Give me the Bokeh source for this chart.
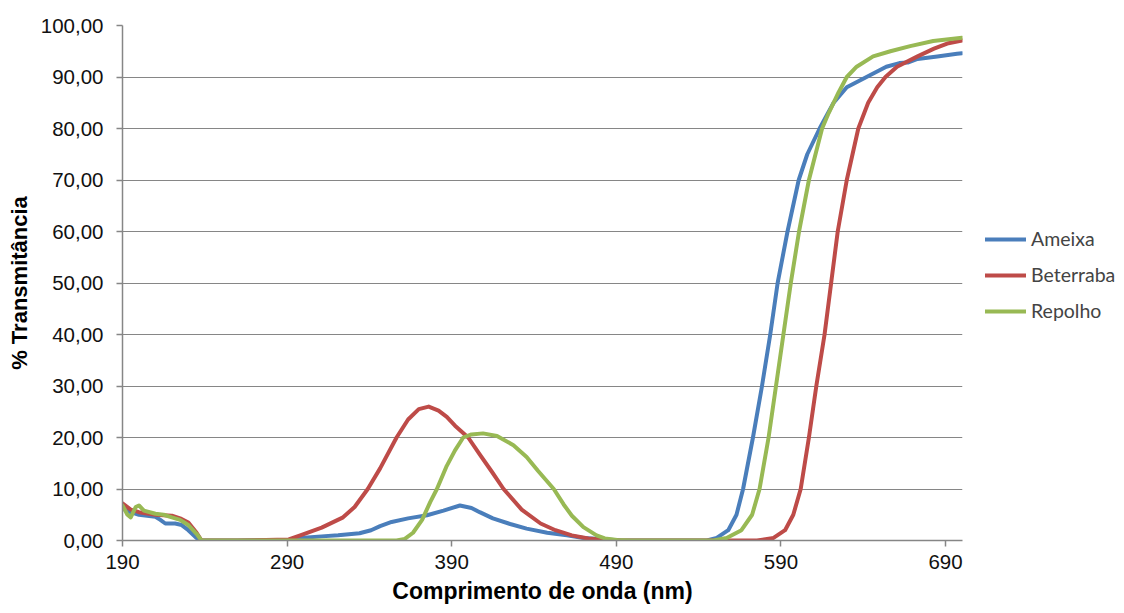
from bokeh.plotting import figure
from bokeh.models import Range1d, FixedTicker, Legend, LegendItem
from bokeh.embed import file_html
from bokeh.resources import INLINE

# Ameixa (blue)
ameixa_x = [190, 195, 200, 205, 210, 213, 216, 222, 226, 230, 235, 238, 260, 291, 298, 311, 321, 334,
            341, 346.5, 353.5, 363.5, 375, 385, 395, 402, 407, 415, 425.5, 435.5, 448, 460, 470, 480,
            493, 545, 551, 558, 563, 567, 573, 578.5, 583.5, 588, 594, 600.8, 606, 613.5, 622, 630,
            642, 654, 662, 667, 673, 685, 697, 700]
ameixa_y = [6.2, 5.5, 5.0, 4.8, 4.6, 4.0, 3.3, 3.3, 3.0, 2.0, 0.5, 0.0, 0.0, 0.1, 0.5, 0.8, 1.0, 1.4,
            2.0, 2.8, 3.6, 4.3, 4.9, 5.8, 6.8, 6.3, 5.5, 4.3, 3.2, 2.3, 1.5, 1.0, 0.5, 0.3,
            0.0, 0.0, 0.5, 2.0, 5.0, 10.0, 20.0, 30.0, 40.0, 50.0, 60.0, 70.0, 75.0, 80.0, 85.0, 88.0,
            90.0, 92.0, 92.7, 92.8, 93.5, 94.0, 94.5, 94.6]

# Beterraba (red)
beterraba_x = [190, 195, 200, 210, 220, 225, 230, 235, 238, 260, 291, 298, 311, 324, 331, 339, 346.5,
               356.5, 363.5, 370, 376, 382, 387, 392, 400, 407, 414.5, 421.5, 432.5, 444, 453, 463,
               473, 483, 493, 575.5, 585.5, 592.5, 597.5, 602, 607, 611.5, 616.5, 620.5, 624.5, 630,
               637, 643, 648.5, 653.5, 660.5, 673, 683, 691, 700]
beterraba_y = [7.2, 6.0, 5.5, 5.0, 4.8, 4.3, 3.5, 1.5, 0.0, 0.0, 0.2, 1.0, 2.5, 4.5, 6.5, 10.0, 14.0,
               20.0, 23.5, 25.5, 26.0, 25.2, 24.0, 22.3, 20.0, 16.7, 13.3, 10.0, 6.0, 3.3, 2.0, 1.0,
               0.4, 0.1, 0.0, 0.0, 0.5, 2.0, 5.0, 10.0, 20.0, 30.0, 40.0, 50.0, 60.0, 70.0,
               80.0, 85.0, 88.0, 90.0, 92.0, 94.0, 95.5, 96.5, 97.1]

# Repolho (green)
repolho_x = [190, 193, 195, 198, 200, 203, 210, 215, 220, 225, 230, 235, 238, 300, 356.5, 361.5, 366.5,
             372, 377, 381, 387, 392, 397, 402, 409, 417.5, 427.5, 435.5, 442.5, 452, 458, 463,
             470, 478, 483, 490.5, 498.5, 549, 557, 566, 572.5, 577, 582.5, 587, 591.5, 596, 601,
             607, 615, 619, 625, 630, 636, 646, 656.5, 668.5, 682.5, 700]
repolho_y = [6.8, 5.0, 4.5, 6.5, 6.8, 5.8, 5.2, 5.0, 4.5, 4.0, 3.0, 1.3, 0.0, 0.0, 0.0, 0.3, 1.5,
             4.0, 7.5, 10.0, 14.5, 17.5, 20.0, 20.6, 20.8, 20.3, 18.5, 16.2, 13.5, 10.0, 7.0, 4.8,
             2.6, 1.0, 0.4, 0.1, 0.0, 0.0, 0.5, 2.0, 5.0, 10.0, 20.0, 30.0, 40.0, 50.0, 60.0,
             70.0, 80.0, 83.0, 87.0, 90.0, 92.0, 94.0, 95.0, 96.0, 97.0, 97.6]

x_ticks = [190, 290, 390, 490, 590, 690]
y_ticks = [0, 10, 20, 30, 40, 50, 60, 70, 80, 90, 100]
y_tick_labels = {t: f"{t},00" for t in y_ticks}

names = ["Ameixa", "Beterraba", "Repolho"]
colors = ["#4a7ebb", "#be4b48", "#98b954"]

p = figure(output_backend="svg", toolbar_location=None,
           frame_width=840, frame_height=515,
           x_range=Range1d(190, 700.3), y_range=Range1d(0, 100),
           min_border_left=122, min_border_top=25, min_border_right=150, min_border_bottom=60)
p.outline_line_color = None
p.background_fill_color = "white"

renderers = []
for xs, ys, c in zip([ameixa_x, beterraba_x, repolho_x], [ameixa_y, beterraba_y, repolho_y], colors):
    r = p.line(xs, ys, line_color=c, line_width=4, line_join="round", line_cap="round")
    renderers.append(r)

font = "Liberation Sans"
p.xaxis.ticker = FixedTicker(ticks=x_ticks)
p.yaxis.ticker = FixedTicker(ticks=y_ticks)
p.yaxis.major_label_overrides = y_tick_labels
for ax in (p.xaxis[0], p.yaxis[0]):
    ax.axis_line_color = "#868686"
    ax.axis_line_width = 1.5
    ax.major_tick_line_color = "#868686"
    ax.major_tick_line_width = 1.5
    ax.minor_tick_line_color = None
    ax.major_tick_in = 0
    ax.major_tick_out = 6
    ax.major_label_text_font = font
    ax.major_label_text_font_size = "20.5px"
    ax.major_label_text_color = "#111111"
    ax.axis_label_text_font = font
    ax.axis_label_text_font_style = "bold"
    ax.axis_label_text_color = "#000000"
p.xaxis.axis_label = "Comprimento de onda (nm)"
p.yaxis.axis_label = "% Transmitância"
p.xaxis.axis_label_text_font_size = "23px"
p.yaxis.axis_label_text_font_size = "22px"
p.xaxis.major_label_standoff = 8
p.xaxis.axis_label_standoff = 6
p.yaxis.major_label_standoff = 13
p.yaxis.axis_label_standoff = 6

p.xgrid.grid_line_color = None
p.ygrid.grid_line_color = "#868686"
p.ygrid.grid_line_width = 1

legend = Legend(items=[LegendItem(label=n, renderers=[r]) for n, r in zip(names, renderers)],
                location=(23, 218))
legend.border_line_color = None
legend.background_fill_alpha = 0
legend.label_text_font = "Lato"
legend.label_text_font_size = "19.5px"
legend.glyph_width = 41
legend.label_standoff = 5
legend.spacing = 13
legend.margin = 0
legend.padding = 4
p.add_layout(legend, "right")

open("out.html", "w").write(file_html(p, INLINE))
